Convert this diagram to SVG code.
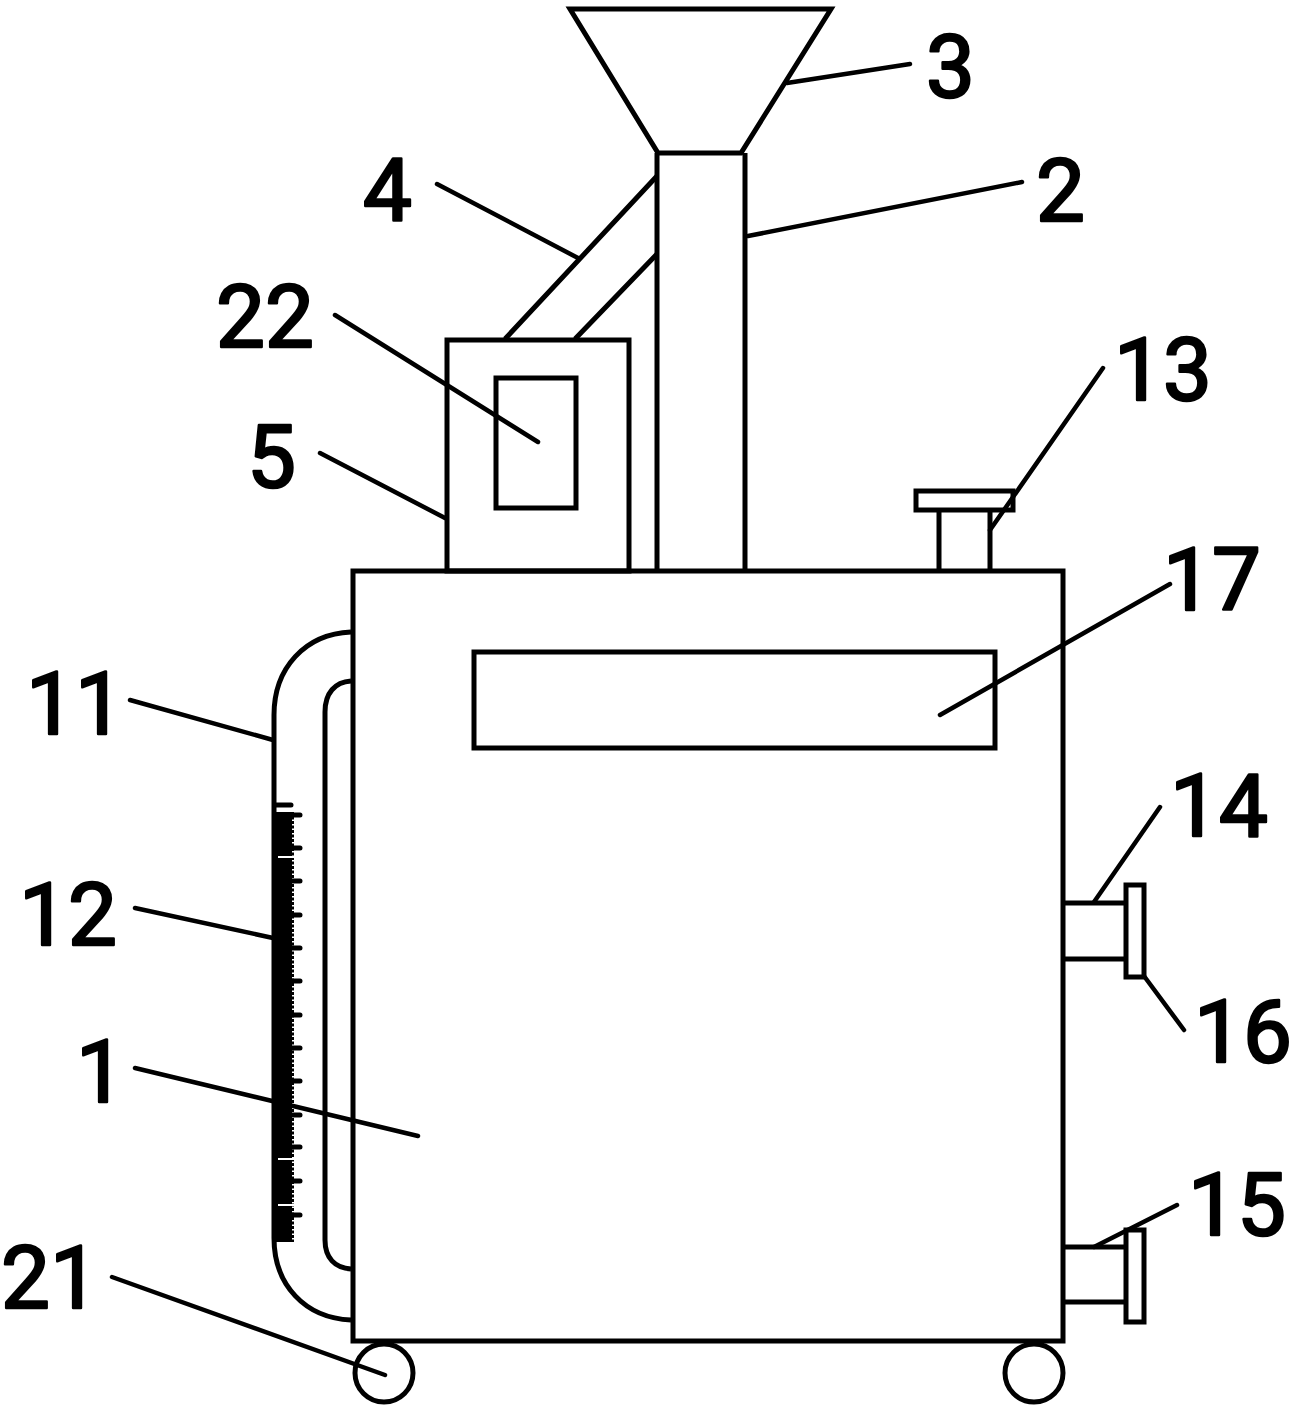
<svg xmlns="http://www.w3.org/2000/svg" width="1294" height="1411" viewBox="0 0 1294 1411">
<style>
.s{fill:none;stroke:#000;stroke-width:5}
.l{fill:none;stroke:#000;stroke-width:4.5;stroke-linecap:round}
.f{fill:#fff;stroke:#000;stroke-width:5}
text{font-family:Roboto,"Liberation Sans",Arial,sans-serif;font-size:87px;fill:#000;stroke:#000;stroke-width:2.5;stroke-linejoin:round}
</style>
<rect width="1294" height="1411" fill="#fff"/>
<g id="funnel"><path class="s" d="M570 9H831L741 153H658Z"/></g>
<g id="pipe"><path class="s" d="M657 153V571M745 153V571"/></g>
<g id="feed"><path class="s" d="M657 176L505 339M657 254L575 339"/></g>
<g id="box"><rect class="f" x="447" y="340" width="182" height="231"/><rect class="f" x="496" y="378" width="80" height="130"/></g>
<g id="cap"><path class="s" d="M939 510V571M990 510V571"/><rect class="f" x="916" y="491" width="97" height="19"/></g>
<g id="tank"><rect class="s" x="353" y="571" width="710" height="770" stroke-width="6"/></g>
<g id="panel"><rect class="f" x="474" y="652" width="521" height="96"/></g>
<g id="gauge">
<path class="s" d="M351 632C305 634 274 668 274 715V1238C274 1285 305 1318 351 1320"/>
<path class="s" d="M351 681C335 682 325 693 325 712V1240C325 1258 335 1268 351 1269"/>
<rect x="273" y="812" width="19" height="430"/>
<path fill="none" stroke="#000" stroke-width="2" stroke-dasharray="3 1.5" d="M293 812V1242"/>
<g fill="#fff"><rect x="278" y="808" width="16" height="3"/><rect x="278" y="856" width="16" height="2"/><rect x="278" y="1158" width="16" height="2"/><rect x="278" y="1204" width="16" height="2"/></g>
<path fill="none" stroke="#000" stroke-width="5" stroke-linecap="round" d="M276 805H291M276 815H300M276 848H300M276 881H300M276 915H300M276 948H300M276 981H300M276 1015H300M276 1048H300M276 1081H300M276 1115H300M276 1147H300M276 1181H300M276 1215H300"/>
</g>
<g id="outlet14"><path class="s" d="M1063 903H1126M1063 959H1126"/><rect class="f" x="1126" y="885" width="18" height="92"/></g>
<g id="outlet15"><path class="s" d="M1063 1247H1126M1063 1302H1126"/><rect class="f" x="1126" y="1230" width="18" height="92"/></g>
<g id="wheels"><circle class="f" cx="384" cy="1373" r="29"/><circle class="f" cx="1034" cy="1373" r="29"/></g>
<g id="connectors">
<path class="l" d="M787 83L910 64M748 236L1022 182M437 184L578 258M335 315L538 442M320 453L445 518M1103 368L990 530M1170 584L940 715M130 700L273 740M135 908L273 938M135 1068L418 1136M112 1277L385 1375M1160 807L1094 902M1144 976L1184 1030M1177 1205L1094 1247"/>
</g>
<g id="labels">
<text x="926" y="97">3</text>
<text x="1036" y="221">2</text>
<text x="363" y="220">4</text>
<text x="216" y="347">22</text>
<text x="247" y="487">5</text>
<text x="1114" y="400">13</text>
<text x="1163" y="610">17</text>
<text x="26" y="734">11</text>
<text x="19" y="945">12</text>
<text x="76" y="1102">1</text>
<text x="1" y="1308">21</text>
<text x="1170" y="836">14</text>
<text x="1194" y="1062">16</text>
<text x="1188" y="1235">15</text>
</g>
</svg>
